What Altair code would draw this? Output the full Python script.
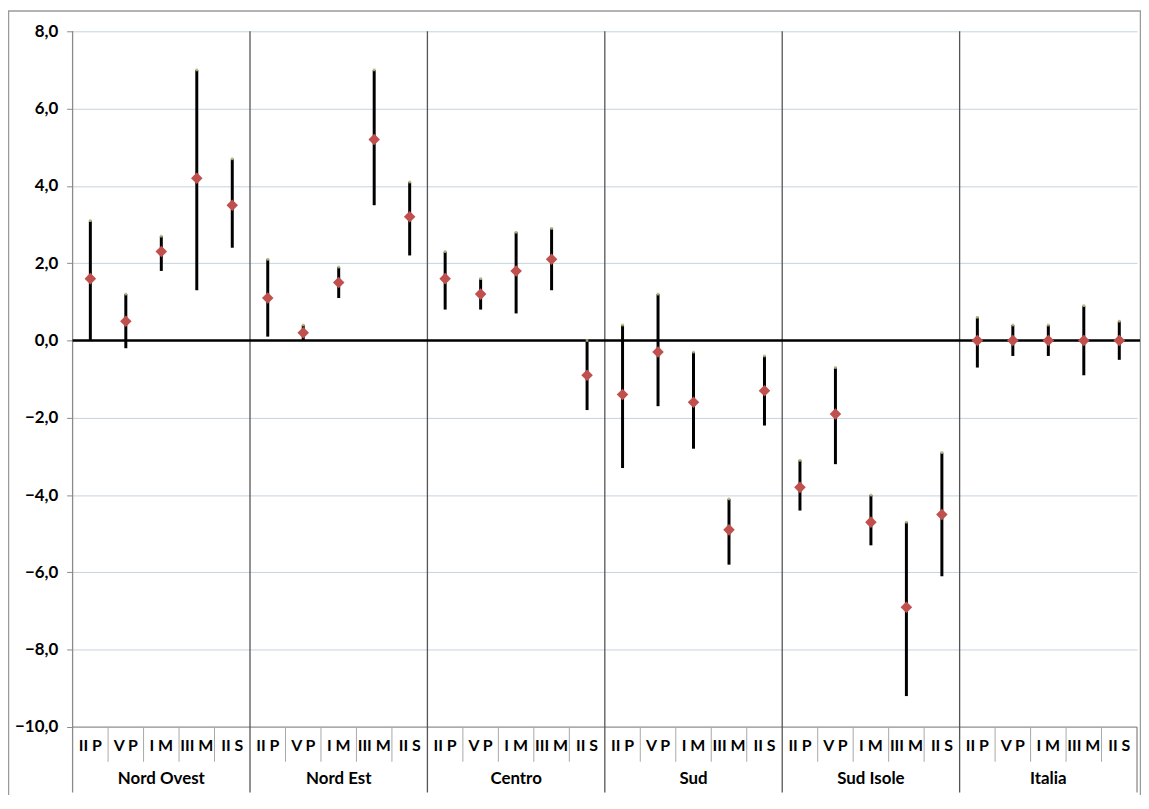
import altair as alt
import pandas as pd

regions = ["Nord Ovest", "Nord Est", "Centro", "Sud", "Sud Isole", "Italia"]
grades = ["II P", "V P", "I M", "III M", "II S"]

# central estimate (red diamond), region-major order
value = [1.6, 0.5, 2.3, 4.2, 3.5,
         1.1, 0.2, 1.5, 5.2, 3.2,
         1.6, 1.2, 1.8, 2.1, -0.9,
         -1.4, -0.3, -1.6, -4.9, -1.3,
         -3.8, -1.9, -4.7, -6.9, -4.5,
         0.0, 0.0, 0.0, 0.0, 0.0]
low = [0.0, -0.2, 1.8, 1.3, 2.4,
       0.1, 0.0, 1.1, 3.5, 2.2,
       0.8, 0.8, 0.7, 1.3, -1.8,
       -3.3, -1.7, -2.8, -5.8, -2.2,
       -4.4, -3.2, -5.3, -9.2, -6.1,
       -0.7, -0.4, -0.4, -0.9, -0.5]
high = [3.1, 1.2, 2.7, 7.0, 4.7,
        2.1, 0.4, 1.9, 7.0, 4.1,
        2.3, 1.6, 2.8, 2.9, 0.0,
        0.4, 1.2, -0.3, -4.1, -0.4,
        -3.1, -0.7, -4.0, -4.7, -2.9,
        0.6, 0.4, 0.4, 0.9, 0.5]
y_ticks = [-10, -8, -6, -4, -2, 0, 2, 4, 6, 8]

W, H = 1071, 700
BOTTOM = 66
FONT = "Lato"

n_g = len(grades)
n = len(regions) * n_g

rows = []
for r_i, reg in enumerate(regions):
    for g_i, g in enumerate(grades):
        k = r_i * n_g + g_i
        rows.append(dict(region=reg, grade=g, pos=k + 0.5,
                         value=value[k], low=low[k], high=high[k]))
df = pd.DataFrame(rows)

reg_df = pd.DataFrame({"region": regions,
                       "center": [i * n_g + n_g / 2 for i in range(len(regions))]})
inner_bounds = pd.DataFrame({"b": [i * n_g for i in range(1, len(regions))]})
left_bound = pd.DataFrame({"b": [0]})
right_bound = pd.DataFrame({"b": [n]})
cat_bounds = pd.DataFrame({"b": [k for k in range(1, n) if k % n_g != 0]})
zero_df = pd.DataFrame({"y": [0]})
one = pd.DataFrame({"k": [0]})

xs = alt.Scale(domain=[0, n], nice=False, zero=False)
ys = alt.Scale(domain=[min(y_ticks), max(y_ticks)], nice=False, zero=False)

GRAY = "#8a8a8a"
DARK = "#555555"

y_axis = alt.Axis(values=y_ticks,
                  labelExpr="replace(format(datum.value, '.1f'), '.', ',')",
                  grid=True, gridColor="#c5d3dd", gridWidth=1,
                  domain=False, ticks=True, tickSize=6, tickColor=GRAY,
                  labelFont=FONT, labelFontWeight="bold", labelFontSize=17,
                  labelColor="black", labelPadding=9)

frame = alt.Chart(one).mark_rect(fill=None, stroke="#9a9a9a", strokeWidth=1.5).encode(
    x=alt.value(-64.5), x2=alt.value(W + 3.5),
    y=alt.value(-20.5), y2=alt.value(H + BOTTOM + 20))

bars = alt.Chart(df).mark_rule(color="black", strokeWidth=3).encode(
    x=alt.X("pos:Q", scale=xs, axis=None),
    y=alt.Y("low:Q", scale=ys, title=None, axis=y_axis),
    y2="high:Q")

xline = alt.Chart(one).mark_rule(color=GRAY, strokeWidth=1.2).encode(
    x=alt.value(0), x2=alt.value(W), y=alt.value(H))

zero_line = alt.Chart(zero_df).mark_rule(color="black", strokeWidth=2.5).encode(
    x=alt.value(0), x2=alt.value(W + 3),
    y=alt.Y("y:Q", scale=ys, title=None, axis=y_axis))

inner_sep = alt.Chart(inner_bounds).mark_rule(color=DARK, strokeWidth=1.3).encode(
    x=alt.X("b:Q", scale=xs, axis=None), y=alt.value(0), y2=alt.value(H + BOTTOM))
left_sep = alt.Chart(left_bound).mark_rule(color=GRAY, strokeWidth=1.3).encode(
    x=alt.X("b:Q", scale=xs, axis=None), y=alt.value(0), y2=alt.value(H + BOTTOM))
right_sep = alt.Chart(right_bound).mark_rule(color=GRAY, strokeWidth=1.3).encode(
    x=alt.X("b:Q", scale=xs, axis=None), y=alt.value(H), y2=alt.value(H + BOTTOM))
cat_sep = alt.Chart(cat_bounds).mark_rule(color="#a8a8a8", strokeWidth=1).encode(
    x=alt.X("b:Q", scale=xs, axis=None), y=alt.value(H), y2=alt.value(H + 35))

high_marks = alt.Chart(df).mark_point(shape="square", filled=True, size=7,
                                      color="#b9b27a", opacity=0.9).encode(
    x=alt.X("pos:Q", scale=xs, axis=None),
    y=alt.Y("high:Q", scale=ys, title=None, axis=y_axis))

diamonds = alt.Chart(df).mark_point(shape="diamond", filled=True, size=135,
                                    color="#c0504d", opacity=1).encode(
    x=alt.X("pos:Q", scale=xs, axis=None),
    y=alt.Y("value:Q", scale=ys, title=None, axis=y_axis))

cat_labels = alt.Chart(df).mark_text(font=FONT, fontWeight="bold", fontSize=16,
                                     color="black", baseline="middle").encode(
    x=alt.X("pos:Q", scale=xs, axis=None), y=alt.value(H + 19), text="grade:N")

reg_labels = alt.Chart(reg_df).mark_text(font=FONT, fontWeight="bold", fontSize=17,
                                         color="black", baseline="middle").encode(
    x=alt.X("center:Q", scale=xs, axis=None), y=alt.value(H + 52), text="region:N")

chart = alt.layer(frame, bars, xline, inner_sep, left_sep, right_sep, cat_sep,
                  zero_line, high_marks, diamonds, cat_labels, reg_labels).resolve_axis(
    y="shared").properties(
    width=W, height=H,
    padding={"left": 65, "top": 21, "right": 4, "bottom": BOTTOM},
    autosize=alt.AutoSizeParams(type="none"),
    background="white",
).configure_view(stroke=None)

chart.save("out.html", embed_options={"renderer": "svg", "actions": False})
